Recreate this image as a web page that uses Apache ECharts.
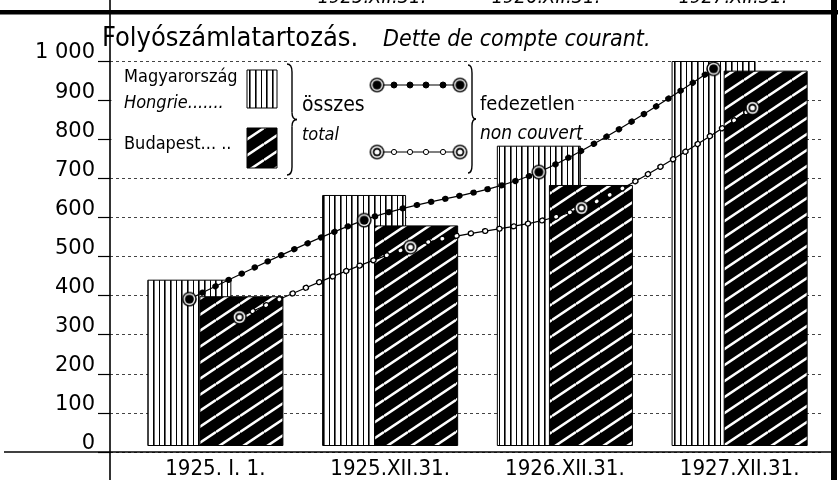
<!DOCTYPE html>
<html>
<head>
<meta charset="utf-8">
<script src="https://cdn.jsdelivr.net/npm/echarts@6/dist/echarts.min.js"></script>
<style>html,body{margin:0;padding:0;background:#fff}#c{width:838px;height:480px}</style>
</head>
<body>
<div id="c"></div>
<script>
// ---- data ----
const categories = ['1925. I. 1.', '1925.XII.31.', '1926.XII.31.', '1927.XII.31.'];
const hungaryTotal = [432, 652, 780, 1000];      // Magyarország – összes
const budapestTotal = [389, 573, 678, 975];      // Budapest – összes
const hungaryUncovered = [391, 593, 716, 980];   // Magyarország – fedezetlen
const budapestUncovered = [345, 524, 624, 880];  // Budapest – fedezetlen
const yTickLabels = ['0', '100', '200', '300', '400', '500', '600', '700', '800', '900', '1 000'];
const headerLabels = ['1925.XII.31.', '1926.XII.31.', '1927.XII.31.'];

// ---- patterns & marker images ----
function stripeCanvas() {
  const c = document.createElement('canvas'); c.width = 17; c.height = 4;
  const g = c.getContext('2d');
  g.fillStyle = '#fff'; g.fillRect(0, 0, 17, 4);
  g.fillStyle = '#000';
  g.fillRect(0, 0, 1.6, 4); g.fillRect(6, 0, 1, 4); g.fillRect(11, 0, 1.6, 4);
  return c;
}
function hatchCanvas() {
  const W = 24, H = 16;
  const c = document.createElement('canvas'); c.width = W; c.height = H;
  const g = c.getContext('2d');
  g.fillStyle = '#000'; g.fillRect(0, 0, W, H);
  g.strokeStyle = '#fff'; g.lineWidth = 2.6;
  for (let k = -1; k <= 1; k++) {
    g.beginPath(); g.moveTo(0, H + k * H); g.lineTo(W, k * H); g.stroke();
  }
  return c;
}
function markerURL(filled) {
  const s = 18, c = document.createElement('canvas'); c.width = s; c.height = s;
  const g = c.getContext('2d');
  const circ = (r, col) => { g.beginPath(); g.arc(9, 9, r, 0, Math.PI * 2); g.fillStyle = col; g.fill(); };
  circ(7.8, '#000'); circ(6.2, '#fff');
  if (filled) { circ(4.8, '#000'); }
  else { circ(4.5, '#000'); circ(2.6, '#fff'); }
  return c.toDataURL();
}
const stripePat = { image: stripeCanvas(), repeat: 'repeat' };
const hatchPat = { image: hatchCanvas(), repeat: 'repeat' };
const filledMarker = markerURL(true);
const openMarker = markerURL(false);

const FONT = "'DejaVu Sans Condensed', 'Liberation Sans Narrow', 'Liberation Sans', sans-serif";
const gridBase = { top: 61, bottom: 28 };

// ---- graphic decorations ----
const graphics = [];
graphics.push({ type: 'rect', z: 1, shape: { x: 111.5, y: 62.5, width: 466, height: 111 }, style: { fill: '#fff' } });
const lt = (text, x, y, size, italic) => graphics.push({
  type: 'text', z: 6, x: x, y: y,
  style: { text: text, fontSize: size, fontStyle: italic ? 'italic' : 'normal', fontFamily: FONT, fill: '#000', verticalAlign: 'middle' }
});
lt('Magyarország', 124, 77, 18, false);
lt('Hongrie.......', 124, 103, 18, true);
lt('Budapest... ..', 124, 144, 18, false);
lt('összes', 302, 106, 21, false);
lt('total', 302, 135, 18, true);
lt('fedezetlen', 480, 105, 20, false);
lt('non couvert', 480, 134, 19, true);
graphics.push({ type: 'rect', z: 6, shape: { x: 247, y: 70, width: 30, height: 38 }, style: { fill: stripePat, stroke: '#000', lineWidth: 1 } });
graphics.push({ type: 'rect', z: 6, shape: { x: 247, y: 128, width: 30, height: 40 }, style: { fill: hatchPat, stroke: '#000', lineWidth: 1 } });
// braces "}"
function addBrace(x, y1, y2, d) {
  const m = (y1 + y2) / 2, st = { stroke: '#000', lineWidth: 1.4, fill: null };
  const q = (ax, ay, cx, cy, bx, by) => graphics.push({ type: 'bezierCurve', z: 6, shape: { x1: ax, y1: ay, cpx1: cx, cpy1: cy, x2: bx, y2: by }, style: st });
  q(x, y1, x + d, y1, x + d, y1 + 8);
  graphics.push({ type: 'line', z: 6, shape: { x1: x + d, y1: y1 + 8, x2: x + d, y2: m - 7 }, style: st });
  q(x + d, m - 7, x + d, m, x + 2 * d, m);
  q(x + 2 * d, m, x + d, m, x + d, m + 7);
  graphics.push({ type: 'line', z: 6, shape: { x1: x + d, y1: m + 7, x2: x + d, y2: y2 - 8 }, style: st });
  q(x + d, y2 - 8, x + d, y2, x, y2);
}
addBrace(287, 64, 175, 5);
addBrace(468, 65, 173, 4);
// legend line samples
[[85, true], [152, false]].forEach(function (row) {
  const y = row[0], filled = row[1];
  graphics.push({ type: 'line', z: 6, shape: { x1: 377, y1: y, x2: 460, y2: y }, style: { stroke: '#000', lineWidth: 1.2 } });
  [394, 410, 426, 443].forEach(function (x) {
    graphics.push({ type: 'circle', z: 7, shape: { cx: x, cy: y, r: filled ? 3 : 2.6 }, style: { fill: filled ? '#000' : '#fff', stroke: '#000', lineWidth: 1 } });
  });
  [377, 460].forEach(function (x) {
    graphics.push({ type: 'image', z: 8, style: { image: filled ? filledMarker : openMarker, x: x - 8.5, y: y - 8.5, width: 17, height: 17 } });
  });
});
// title
graphics.push({ type: 'text', z: 6, x: 102, y: 39, style: { text: 'Folyószámlatartozás.', fontSize: 27, fontFamily: FONT, fill: '#000', verticalAlign: 'middle' } });
graphics.push({ type: 'text', z: 6, x: 383, y: 40, style: { text: 'Dette de compte courant.', fontSize: 23, fontStyle: 'italic', fontFamily: FONT, fill: '#000', verticalAlign: 'middle' } });
// header (cut off at top)
[372, 546, 733].forEach(function (x, i) {
  graphics.push({ type: 'text', z: 6, x: x, y: 8, style: { text: headerLabels[i], fontSize: 20, fontStyle: 'italic', fontFamily: FONT, fill: '#000', align: 'center', verticalAlign: 'bottom' } });
});
// frame lines
graphics.push({ type: 'rect', z: 10, shape: { x: 0, y: 10, width: 838, height: 4.5 }, style: { fill: '#000' } });
graphics.push({ type: 'rect', z: 10, shape: { x: 831, y: 0, width: 6, height: 480 }, style: { fill: '#000' } });
graphics.push({ type: 'line', z: 10, shape: { x1: 110, y1: 0, x2: 110, y2: 480 }, style: { stroke: '#000', lineWidth: 1.6 } });
graphics.push({ type: 'line', z: 10, shape: { x1: 4, y1: 452, x2: 831, y2: 452 }, style: { stroke: '#000', lineWidth: 1.6 } });

// ---- chart ----
const hiddenY = (i) => ({ gridIndex: i, type: 'value', min: 0, max: 1000, interval: 100, show: false, splitLine: { show: false } });
const hiddenX = (i) => ({ gridIndex: i, type: 'category', data: categories, show: false });

const dotted = (name, idx, data, color, width, z) => ({
  name: name, type: 'line', xAxisIndex: idx, yAxisIndex: idx, data: data, smooth: 0.35,
  showSymbol: false, symbol: 'none', clip: false, z: z, silent: true,
  lineStyle: { color: color, width: width, type: [0.5, 14], cap: 'round' }
});
const thin = (name, idx, data, z) => ({
  name: name, type: 'line', xAxisIndex: idx, yAxisIndex: idx, data: data, smooth: 0.35,
  showSymbol: false, symbol: 'none', clip: false, z: z, silent: true,
  lineStyle: { color: '#000', width: 1.2 }
});
const marks = (name, idx, data, img, z) => ({
  name: name, type: 'line', xAxisIndex: idx, yAxisIndex: idx, data: data, smooth: 0.35,
  symbol: 'image://' + img, symbolSize: 17, showSymbol: true, clip: false, z: z,
  lineStyle: { opacity: 0 }
});

const chart = echarts.init(document.getElementById('c'), null, { renderer: 'canvas' });
chart.setOption({
  animation: false,
  backgroundColor: '#fff',
  grid: [
    Object.assign({ left: 110, right: 16 }, gridBase),
    Object.assign({ left: 128, width: 699 }, gridBase),
    Object.assign({ left: 102, width: 699 }, gridBase),
    Object.assign({ left: 154, width: 699 }, gridBase)
  ],
  xAxis: [
    { gridIndex: 0, type: 'value', show: false, min: 0, max: 1 },
    {
      gridIndex: 1, type: 'category', data: categories,
      axisLine: { show: false }, axisTick: { show: false },
      axisLabel: { fontSize: 22, fontFamily: FONT, color: '#000', margin: 12 }
    },
    hiddenX(2), hiddenX(3)
  ],
  yAxis: [
    {
      gridIndex: 0, type: 'value', min: 0, max: 1000, interval: 100,
      axisLine: { show: false },
      axisTick: { show: true, length: 12, lineStyle: { color: '#000', width: 1.2 } },
      axisLabel: {
        formatter: function (v) { return yTickLabels[Math.round(v / 100)]; },
        fontSize: 21, lineHeight: 16, fontFamily: "'DejaVu Sans', sans-serif", color: '#000', margin: 15,
        verticalAlign: 'bottom'
      },
      splitLine: { show: true, lineStyle: { color: '#444', width: 1, type: [3, 3] } }
    },
    hiddenY(1), hiddenY(2), hiddenY(3)
  ],
  series: [
    {
      name: 'Magyarország összes', type: 'bar', xAxisIndex: 1, yAxisIndex: 1, data: hungaryTotal,
      barWidth: 84, barGap: '-38%', clip: false, z: 2,
      itemStyle: { color: stripePat, borderColor: '#000', borderWidth: 1 }
    },
    {
      name: 'Budapest összes', type: 'bar', xAxisIndex: 1, yAxisIndex: 1, data: budapestTotal,
      barWidth: 84, barGap: '-38%', clip: false, z: 2,
      itemStyle: { color: hatchPat, borderColor: '#000', borderWidth: 1 }
    },
    thin('Magyarország fedezetlen', 2, hungaryUncovered, 3),
    dotted('Magyarország fedezetlen', 2, hungaryUncovered, '#000', 6, 3),
    marks('Magyarország fedezetlen', 2, hungaryUncovered, filledMarker, 4),
    thin('Budapest fedezetlen', 3, budapestUncovered, 3),
    dotted('Budapest fedezetlen', 3, budapestUncovered, '#000', 6, 3),
    dotted('Budapest fedezetlen', 3, budapestUncovered, '#fff', 3.4, 3),
    marks('Budapest fedezetlen', 3, budapestUncovered, openMarker, 4)
  ],
  graphic: { elements: graphics }
});
</script>
</body>
</html>
